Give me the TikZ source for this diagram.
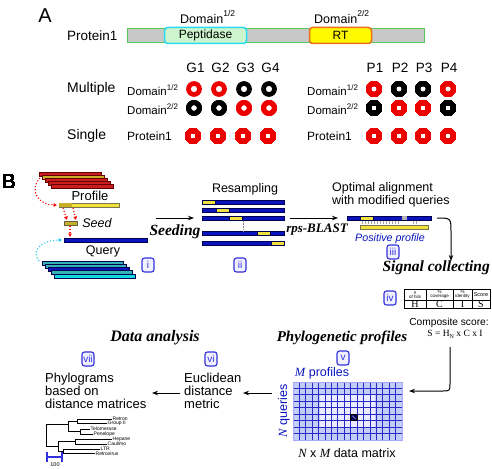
\documentclass[tikz,border=0pt]{standalone}
\usepackage{fontspec}
\setmainfont{Liberation Sans}
\newfontfamily\tser{Liberation Serif}
\usetikzlibrary{arrows.meta}
\definecolor{ringred}{RGB}{236,0,0}
\definecolor{barblue}{RGB}{10,20,190}
\definecolor{navy}{RGB}{0,0,80}
\definecolor{boxblue}{RGB}{50,50,220}
\definecolor{lblue}{RGB}{40,40,200}
\definecolor{pgray}{RGB}{200,200,200}
\definecolor{pgreen}{RGB}{90,200,90}
\definecolor{pepfill}{RGB}{205,245,205}
\definecolor{pepdraw}{RGB}{40,220,240}
\definecolor{rtfill}{RGB}{255,250,0}
\definecolor{rtdraw}{RGB}{235,110,30}
\definecolor{byellow}{RGB}{240,225,60}
\definecolor{bgold}{RGB}{200,175,40}
\definecolor{bred}{RGB}{200,30,30}
\definecolor{teal1}{RGB}{50,180,180}
\definecolor{cyan1}{RGB}{20,215,225}
\definecolor{matfill}{RGB}{195,205,245}
\definecolor{dotcyan}{RGB}{30,200,240}
\newcommand\dsup[3]{\raisebox{#2}{\fontsize{#1}{#1}\selectfont #3}}
\newcommand\fs[1]{\fontsize{#1}{#1}\selectfont}
\tikzset{
  ring/.style={even odd rule},
  numbox/.style={draw=boxblue, line width=1.1pt, rounded corners=2.5pt, fill=blue!6, text=boxblue,
    minimum width=12pt, minimum height=14pt, inner sep=1pt, font=\fs{10}},
  blbar/.style={draw=navy, line width=0.5pt},
  ttl/.style={font=\tser\bfseries\itshape\fs{15.5}, inner sep=0},
  txt/.style={inner sep=0},
  arr/.style={line width=1pt, -{Stealth[length=6pt,width=4.5pt]}},
  rdot/.style={red, dotted, line width=1.1pt, -{Triangle[length=3.5pt,width=3.5pt]}},
  cdot/.style={dotcyan, dotted, line width=1.1pt, -{Triangle[length=3.5pt,width=3.5pt]}},
  tiny/.style={inner sep=0, font=\fs{5}},
}
\newcommand\ringat[3]{\fill[ring,#3] (#1,#2) circle[radius=7.9pt] (#1,#2) circle[radius=3.2pt];}
\begin{document}
\begin{tikzpicture}[x=1pt,y=-1pt]
\useasboundingbox[fill=white] (0,0) rectangle (492,468);
% ---------------- A ----------------
\node[txt, font=\fs{20}] (labA) at (45,16) {A};
\draw[pgreen, fill=pgray, line width=1pt] (127,29) rectangle (424,43);
\node[draw=pepdraw, fill=pepfill, line width=1.5pt, rounded corners=3pt, minimum width=82pt, minimum height=16pt, inner sep=0, font=\fs{12}] (pep) at (205.5,35.5) {Peptidase};
\node[draw=rtdraw, fill=rtfill, line width=1.5pt, rounded corners=3pt, minimum width=62pt, minimum height=16pt, inner sep=0, font=\fs{12}] (rt) at (340.5,35.5) {RT};
\node[txt, anchor=base west, font=\fs{12.5}] (d1) at (180,24) {Domain\dsup{8.5}{7pt}{1/2}};
\node[txt, anchor=base west, font=\fs{12.5}] (d2) at (314,24) {Domain\dsup{8.5}{7pt}{2/2}};
\node[txt, anchor=west, font=\fs{13.5}] (p1) at (67,36) {Protein1};
\foreach \x/\t in {194/G1,219/G2,244/G3,269/G4} \node[txt, font=\fs{13.5}] (\t) at (\x+1.5,68) {\t};
\foreach \x/\t in {374/P1,399/P2,423/P3,448/P4} \node[txt, font=\fs{13.5}] (\t) at (\x+1,68) {\t};
\node[txt, anchor=west, font=\fs{14}] (mult) at (67,89) {Multiple};
\node[txt, anchor=west, font=\fs{14}] (sing) at (67,136) {Single};
\node[txt, anchor=west, font=\fs{11.5}] (ld1) at (127,90) {Domain\dsup{8}{5.5pt}{1/2}};
\node[txt, anchor=west, font=\fs{11.5}] (ld2) at (127,109) {Domain\dsup{8}{5.5pt}{2/2}};
\node[txt, anchor=west, font=\fs{11.5}] (rd1) at (307,90) {Domain\dsup{8}{5.5pt}{1/2}};
\node[txt, anchor=west, font=\fs{11.5}] (rd2) at (307,109) {Domain\dsup{8}{5.5pt}{2/2}};
\node[txt, anchor=west, font=\fs{12}] (lp) at (127,136) {Protein1};
\node[txt, anchor=west, font=\fs{12}] (rp) at (307,136) {Protein1};
\foreach \x/\c in {194/ringred,219/ringred,244/black,269/black} \ringat{\x}{89}{\c}
\foreach \x/\c in {194/black,219/black,244/ringred,269/ringred} \ringat{\x}{108}{\c}
\foreach \x/\c in {374/ringred,399/black,423/black,448/ringred} \ringat{\x}{89}{\c}
\foreach \x/\c in {374/black,399/ringred,423/ringred,448/black} \ringat{\x}{108}{\c}
\foreach \x in {193,218,243,268,374,399,423,448} \ringat{\x}{136}{ringred}
% ---------------- B ----------------
\node[txt, font=\fs{20}] (labB) at (9,182) {B};
\foreach \i/\c in {0/bred,1/bgold,2/bred,3/bred,4/bred}
  \draw[draw=red!40!black, fill=\c, line width=0.5pt] (39+3*\i,172+3*\i) rectangle ++(62,4);
\node[txt, font=\fs{13}] (prof) at (90,196) {Profile};
\draw[draw=black!60!yellow, fill=byellow, line width=0.5pt] (59,203) rectangle (119,207);
\fill[bgold] (59.3,203.3) rectangle (72,206.7);
\draw[draw=black!70!yellow, fill=bgold, line width=0.5pt] (64,221) rectangle (77,225);
\node[txt, font=\itshape\fs{12.5}] (seed) at (97,223) {Seed};
\draw[blbar, fill=barblue] (64,238) rectangle (147,242);
\node[txt, font=\fs{12.5}] (query) at (103,251) {Query};
\foreach \i/\c in {0/teal1,1/teal1,2/barblue,3/teal1,4/cyan1}
  \draw[draw=navy, fill=\c, line width=0.5pt] (42+3*\i,261+3.2*\i) rectangle ++(81,4);
\coordinate (ps) at (40,178); \coordinate (pb) at (57,205);
\draw[rdot] (ps) .. controls (28,192) and (40,205) .. (pb);
\coordinate (pb1) at (63,208); \coordinate (sd1) at (67,220);
\coordinate (pb2) at (73,208); \coordinate (sd2) at (76,220);
\draw[rdot] (pb1) -- (sd1);
\draw[rdot] (pb2) -- (sd2);
\coordinate (sd3) at (70,226); \coordinate (qb) at (70,237);
\draw[rdot] (sd3) -- (qb);
\coordinate (qs) at (39,261); \coordinate (qb2) at (62,240);
\draw[cdot] (qs) .. controls (30,248) and (45,240) .. (qb2);
\node[numbox] (ni) at (148,265) {i};
% resampling
\node[txt, font=\fs{12.5}] (resamp) at (245,189) {Resampling};
\foreach \y/\s in {202/202,210/216,218/229,233/257,243/271} {
  \draw[blbar, fill=barblue] (202,\y-2) rectangle (284,\y+2);
  \draw[blbar, fill=byellow] (\s,\y-2) rectangle ++(13,4);
}
\draw[gray, densely dotted, line width=0.6pt] (243,221) -- (243,231);
\coordinate (sa) at (156,218); \coordinate (sb) at (194,218);
\draw[arr] (sa) -- (sb);
\node[ttl] (seeding) at (175,232) {Seeding};
\node[numbox] (nii) at (240,265) {ii};
\coordinate (ra) at (290,218); \coordinate (rb) at (338,218);
\draw[arr] (ra) -- (rb);
\node[txt, font=\tser\bfseries\itshape\fs{13}] (rps) at (317,230) {rps-BLAST};
% optimal alignment
\node[txt, anchor=north west, align=left, font=\fs{12.5}] (opt) at (332,182.5) {Optimal alignment\\[0.5pt]with modified queries};
\draw[blbar, fill=barblue] (347,216) rectangle (431,220);
\fill[gray!60] (402,216.3) rectangle (407,219.7);
\draw[blbar, fill=byellow] (360,216) rectangle (373,220);
\draw[draw=black!60!yellow, fill=byellow, line width=0.5pt] (360,225) rectangle (428,229);
\foreach \x in {362,365,...,398,413,416} \draw[gray!70, line width=0.5pt] (\x,221) -- (\x,224);
\node[txt, font=\itshape\fs{10.7}, text=barblue] (pos) at (390,238.5) {Positive profile};
\node[numbox] (niii) at (393,252) {iii};
\coordinate (ca) at (437,218); \coordinate (cb) at (451,261);
\draw[arr] (ca) .. controls (451,218) .. (451,232) -- (cb);
\node[ttl, anchor=east] (sig) at (490,268) {Signal collecting};
% table
\node[numbox] (niv) at (390,298) {iv};
\draw[line width=0.6pt] (404,289) rectangle (490,308);
\draw[line width=0.6pt] (404,300) -- (490,300);
\foreach \x in {426,453,472} \draw[line width=0.6pt] (\x,289) -- (\x,308);
\node[tiny, align=center, font=\fs{4.5}] (h1) at (415,294.5) {\#\\[-0.5pt]of hits};
\node[tiny, align=center, font=\fs{4.5}] (h2) at (439.5,294.5) {\%\\[-0.5pt]coverage};
\node[tiny, align=center, font=\fs{4.5}] (h3) at (462.5,294.5) {\%\\[-0.5pt]identity};
\node[tiny, font=\fs{5.5}] (h4) at (481,294.5) {Score};
\node[txt, font=\tser\fs{10}] (vH) at (415,304.3) {H};
\node[txt, font=\tser\fs{10}] (vC) at (439.5,304.3) {C};
\node[txt, font=\tser\fs{10}] (vI) at (462.5,304.3) {I};
\node[txt, font=\tser\fs{10}] (vS) at (481,304.3) {S};
\node[txt, font=\fs{10.2}] (comp) at (449,323) {Composite score:};
\node[txt, font=\tser\fs{9.5}] (form) at (455,334) {S = H\raisebox{-2pt}{\fs{6}N} x C x I};
\coordinate (la) at (450,347); \coordinate (lb) at (409,391);
\draw[arr] (la) -- (450,383) .. controls (450,391) .. (442,391) -- (lb);
% phylogenetic profiles
\node[ttl, font=\tser\bfseries\itshape\fs{15}] (phylo) at (342,338) {Phylogenetic profiles};
\node[numbox] (nv) at (343,358) {v};
\node[txt, font=\fs{12.5}, text=barblue] (mprof) at (322,373) {{\tser\itshape M} profiles};
\fill[matfill] (293,382) rectangle (402,440);
\fill[blue!8] (320,395) rectangle (375,428);
\foreach \i in {1,...,16} \draw[lblue, line width=0.8pt] (293+\i*6.4118,382) -- ++(0,58);
\foreach \j in {1,...,8} \draw[lblue, line width=0.8pt] (293,382+\j*6.4444) -- ++(109,0);
\draw[blue!35, line width=1pt] (293,382) rectangle (402,440);
\draw[black, fill=navy, line width=0.8pt] (293+9*6.4118,382+5*6.4444) rectangle ++(6.4118,6.4444);
\draw[white!70!blue, line width=0.5pt] (293+9*6.4118+1.5,382+5*6.4444+1.5) -- ++(3.4,3.4);
\node[txt, font=\fs{12.5}, text=barblue, rotate=90] (nq) at (284,411) {{\tser\itshape N} queries};
\node[txt, font=\fs{12.5}] (nxm) at (347,453) {{\tser\itshape N} x {\tser\itshape M} data matrix};
\coordinate (ma) at (272,393); \coordinate (mb) at (243,393);
\draw[arr] (ma) -- (mb);
% data analysis
\node[ttl, font=\tser\bfseries\itshape\fs{16}] (data) at (155,338) {Data analysis};
\node[numbox] (nvi) at (211,359) {vi};
\node[numbox] (nvii) at (88,359) {vii};
\node[txt, anchor=north west, align=left, font=\fs{13}] (eucl) at (184,373) {Euclidean\\distance\\metric};
\node[txt, anchor=north west, align=left, font=\fs{13}] (phyl) at (45,373) {Phylograms\\based on\\distance matrices};
\coordinate (ea) at (180,393); \coordinate (eb) at (152,393);
\draw[arr] (ea) -- (eb);
% tree
\begin{scope}[line width=1pt]
\draw (46,424) -- (46,446);
\draw (46,424) -- (68,424); \draw (68,421) -- (68,431);
\draw (68,421) -- (77,421); \draw (77,419) -- (77,423);
\draw (77,419) -- (112,419); \draw (77,423) -- (107,423);
\draw (68,431) -- (80,431); \draw (80,429) -- (80,434);
\draw (80,429) -- (90,429); \draw (80,434) -- (93,434);
\draw (46,446) -- (58,446); \draw (58,441) -- (58,451);
\draw (58,441) -- (75,441); \draw (75,439) -- (75,444);
\draw (75,439) -- (112,439); \draw (75,444) -- (107,444);
\draw (58,451) -- (63,451); \draw (63,449) -- (63,453);
\draw (63,449) -- (100,449); \draw (63,453) -- (95,453);
\end{scope}
\node[tiny, anchor=west] (t1) at (112.5,419) {Retron};
\node[tiny, anchor=west] (t2) at (107.5,423.5) {Group II};
\node[tiny, anchor=west] (t3) at (90.5,429) {Telomerase};
\node[tiny, anchor=west] (t4) at (93.5,434) {Penelope};
\node[tiny, anchor=west] (t5) at (112.5,439) {Hepane};
\node[tiny, anchor=west] (t6) at (107.5,444) {Caulimo};
\node[tiny, anchor=west] (t7) at (100.5,449) {LTR};
\node[tiny, anchor=west] (t8) at (95.5,453.5) {Retrovirus};
\draw[boxblue, line width=1.6pt] (47,452) -- (47,462) (62,452) -- (62,462) (47,457) -- (62,457);
\node[tiny, font=\fs{5.5}] (sc) at (55,464.5) {100};
\end{tikzpicture}
\end{document}
